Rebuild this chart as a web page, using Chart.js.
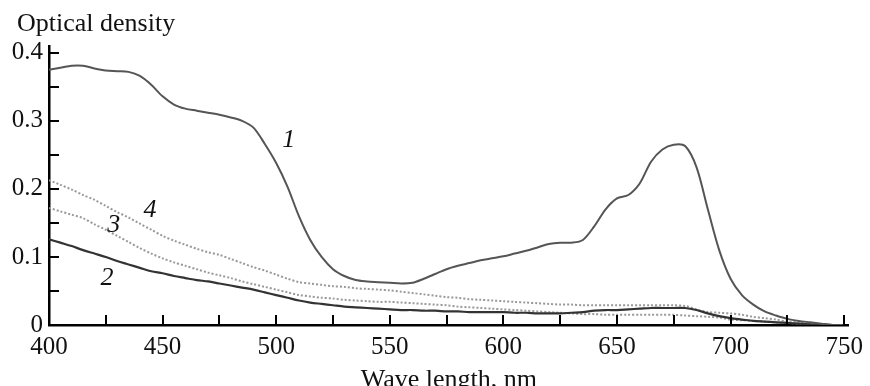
<!DOCTYPE html>
<html lang="en">
<head>
    <meta charset="UTF-8">
    <title>Optical density spectra</title>
    <script src="https://cdn.jsdelivr.net/npm/chart.js"></script>
    <style>
        body { margin: 0; background: #fff; }
        canvas { display: block; }
    </style>
</head>
<body>
    <canvas id="myChart" width="870" height="386"></canvas>
    <script>
        // wavelength grid, nm
        const wavelengths = [];
        for (let w = 400; w <= 750; w += 5) wavelengths.push(w);

        // values, every 5 nm from 400 to 750
        const curve1 = [
            0.375, 0.378, 0.381, 0.381, 0.377, 0.374, 0.373, 0.372, 0.366, 0.353,
            0.336, 0.324, 0.318, 0.315, 0.312, 0.309, 0.305, 0.300, 0.290, 0.266,
            0.238, 0.203, 0.160, 0.125, 0.100, 0.082, 0.072, 0.066, 0.064, 0.063,
            0.062, 0.061, 0.062, 0.068, 0.075, 0.082, 0.087, 0.091, 0.095, 0.098,
            0.101, 0.105, 0.109, 0.114, 0.119, 0.121, 0.121, 0.125, 0.145, 0.170,
            0.186, 0.191, 0.208, 0.240, 0.258, 0.265, 0.263, 0.232, 0.170, 0.110,
            0.068, 0.044, 0.030, 0.020, 0.014, 0.009, 0.006, 0.004, 0.002, 0.000,
            0.000
        ];
        const curve2 = [
            0.126, 0.121, 0.116, 0.110, 0.105, 0.100, 0.094, 0.089, 0.084, 0.079,
            0.076, 0.072, 0.069, 0.066, 0.064, 0.061, 0.058, 0.055, 0.052, 0.048,
            0.044, 0.040, 0.036, 0.033, 0.031, 0.029, 0.027, 0.026, 0.025, 0.024,
            0.023, 0.022, 0.022, 0.021, 0.021, 0.020, 0.020, 0.019, 0.019, 0.019,
            0.019, 0.018, 0.018, 0.017, 0.017, 0.017, 0.018, 0.019, 0.021, 0.022,
            0.022, 0.023, 0.024, 0.025, 0.025, 0.025, 0.025, 0.022, 0.017, 0.013,
            0.010, 0.008, 0.006, 0.005, 0.004, 0.003, 0.002, 0.001, 0.000, 0.000,
            0.000
        ];
        const curve3 = [
            0.172, 0.167, 0.162, 0.157, 0.148, 0.140, 0.131, 0.122, 0.113, 0.105,
            0.098, 0.092, 0.087, 0.082, 0.077, 0.073, 0.069, 0.064, 0.060, 0.056,
            0.052, 0.048, 0.044, 0.042, 0.040, 0.039, 0.037, 0.036, 0.035, 0.034,
            0.034, 0.033, 0.032, 0.031, 0.030, 0.029, 0.027, 0.026, 0.025, 0.024,
            0.023, 0.022, 0.021, 0.020, 0.019, 0.018, 0.017, 0.016, 0.016, 0.015,
            0.015, 0.015, 0.015, 0.015, 0.015, 0.015, 0.014, 0.013, 0.012, 0.011,
            0.008, 0.007, 0.006, 0.005, 0.004, 0.003, 0.002, 0.001, 0.000, 0.000,
            0.000
        ];
        const curve4 = [
            0.213, 0.206, 0.199, 0.191, 0.184, 0.175, 0.166, 0.158, 0.149, 0.140,
            0.131, 0.124, 0.118, 0.112, 0.107, 0.103, 0.097, 0.091, 0.085, 0.080,
            0.074, 0.068, 0.063, 0.061, 0.059, 0.057, 0.056, 0.054, 0.053, 0.052,
            0.051, 0.049, 0.047, 0.045, 0.043, 0.041, 0.040, 0.038, 0.037, 0.036,
            0.035, 0.034, 0.033, 0.032, 0.031, 0.030, 0.030, 0.029, 0.029, 0.029,
            0.029, 0.029, 0.029, 0.029, 0.029, 0.029, 0.028, 0.023, 0.019, 0.018,
            0.017, 0.015, 0.012, 0.010, 0.008, 0.005, 0.004, 0.002, 0.001, 0.000,
            0.000
        ];

        // curve numbers placed next to the curves (wavelength, density)
        const curveLabelText = ['1', '2', '3', '4'];
        const curveLabelX = [505.5, 425.5, 428.5, 444.5];
        const curveLabelY = [0.271, 0.069, 0.146, 0.169];

        const serif = '"Liberation Serif", "DejaVu Serif", serif';

        function toPoints(values) {
            return values.map((v, i) => ({ x: wavelengths[i], y: v }));
        }

        const inwardTicks = {
            id: 'inwardTicks',
            afterDraw(chart) {
                const ctx = chart.ctx;
                const area = chart.chartArea;
                const xs = chart.scales.x;
                const ys = chart.scales.y;
                ctx.save();
                ctx.strokeStyle = '#000';
                ctx.lineWidth = 2;
                xs.ticks.forEach(t => {
                    const px = Math.round(xs.getPixelForValue(t.value));
                    ctx.beginPath();
                    ctx.moveTo(px, area.bottom);
                    ctx.lineTo(px, area.bottom - 10);
                    ctx.stroke();
                });
                ys.ticks.forEach(t => {
                    const py = Math.round(ys.getPixelForValue(t.value));
                    ctx.beginPath();
                    ctx.moveTo(area.left, py);
                    ctx.lineTo(area.left + 10, py);
                    ctx.stroke();
                });
                ctx.restore();
            }
        };

        const curveLabels = {
            id: 'curveLabels',
            afterDatasetsDraw(chart) {
                const ctx = chart.ctx;
                const xs = chart.scales.x;
                const ys = chart.scales.y;
                ctx.save();
                ctx.fillStyle = '#111';
                ctx.font = 'italic 26px ' + serif;
                ctx.textAlign = 'center';
                ctx.textBaseline = 'middle';
                curveLabelText.forEach((txt, i) => {
                    ctx.fillText(txt, xs.getPixelForValue(curveLabelX[i]), ys.getPixelForValue(curveLabelY[i]));
                });
                // y axis caption above the axis
                ctx.font = '26px ' + serif;
                ctx.textAlign = 'left';
                ctx.textBaseline = 'alphabetic';
                ctx.fillText('Optical density', 17, 31);
                ctx.restore();
            }
        };

        const ctx = document.getElementById('myChart').getContext('2d');
        const chart = new Chart(ctx, {
            type: 'line',
            data: {
                datasets: [
                    { label: '1', data: toPoints(curve1), borderColor: '#555', borderWidth: 2 },
                    { label: '2', data: toPoints(curve2), borderColor: '#333', borderWidth: 2.2 },
                    { label: '3', data: toPoints(curve3), borderColor: '#999', borderWidth: 2, borderDash: [2, 2] },
                    { label: '4', data: toPoints(curve4), borderColor: '#999', borderWidth: 2, borderDash: [2, 2] }
                ]
            },
            options: {
                responsive: false,
                animation: false,
                devicePixelRatio: 1,
                elements: { point: { radius: 0 }, line: { tension: 0.3 } },
                layout: { padding: { left: 0, top: 46, right: 17, bottom: 0 } },
                plugins: { legend: { display: false }, tooltip: { enabled: false } },
                scales: {
                    x: {
                        type: 'linear',
                        min: 400,
                        max: 752,
                        afterFit(scale) { scale.height = 61; },
                        grid: { display: true, drawOnChartArea: false, drawTicks: false },
                        border: { display: true, color: '#000', width: 2.5 },
                        ticks: {
                            stepSize: 25,
                            includeBounds: false,
                            padding: 7,
                            color: '#111',
                            font: { family: serif, size: 25 },
                            maxRotation: 0,
                            autoSkip: false,
                            callback: v => (v % 50 === 0 ? String(v) : '')
                        },
                        title: {
                            display: true,
                            text: 'Wave length, nm',
                            color: '#111',
                            font: { family: serif, size: 26 },
                            padding: { top: 0, bottom: -10 }
                        }
                    },
                    y: {
                        min: 0,
                        max: 0.41,
                        afterFit(scale) { scale.width = 49; },
                        grid: { display: true, drawOnChartArea: false, drawTicks: false },
                        border: { display: true, color: '#000', width: 2.5 },
                        ticks: {
                            stepSize: 0.05,
                            includeBounds: false,
                            padding: 6,
                            color: '#111',
                            font: { family: serif, size: 25 },
                            autoSkip: false,
                            callback: v => {
                                const k = Math.round(v * 100);
                                if (k % 10 !== 0) return '';
                                return k === 0 ? '0' : (k / 100).toFixed(1);
                            }
                        }
                    }
                }
            },
            plugins: [inwardTicks, curveLabels]
        });
    </script>
</body>
</html>
